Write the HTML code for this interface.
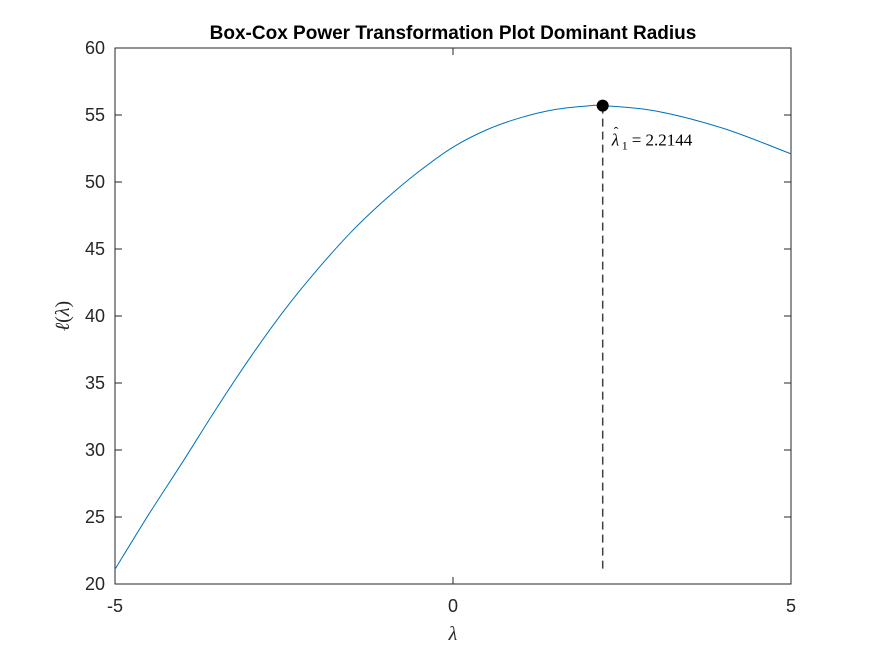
<!DOCTYPE html>
<html><head><meta charset="utf-8"><style>
body{margin:0;background:#fff;}
svg text{font-family:"Liberation Sans",sans-serif;}
</style></head><body>
<svg id="chart" width="875" height="656" xmlns="http://www.w3.org/2000/svg">
<rect width="875" height="656" fill="#fff"/>
<text x="453" y="39" text-anchor="middle" font-size="19" font-weight="bold" fill="#000">Box-Cox Power Transformation Plot Dominant Radius</text>
<rect x="115" y="48" width="676" height="536" fill="none" stroke="#262626" stroke-width="1"/>
<g id="xticks"></g>
<g id="yticks"></g>
<text x="453" y="640" text-anchor="middle" font-size="20" font-style="italic" fill="#262626" style="font-family:'Liberation Serif',serif">λ</text>
<text transform="translate(69,316) rotate(-90)" text-anchor="middle" font-size="20" fill="#262626" style="font-family:'Liberation Serif',serif"><tspan font-style="italic">ℓ</tspan>(<tspan font-style="italic">λ</tspan>)</text>
<path id="curve" fill="none" stroke="#0072BD" stroke-width="1"/>
<line id="dash" stroke="#404040" stroke-width="1.5" stroke-dasharray="8,5"/>
<circle id="peak" r="6" fill="#000"/>
<g id="lbl" fill="#000">
<text x="0" y="0" font-size="17" font-style="italic" style="font-family:'Liberation Serif',serif">λ</text>
<text x="2" y="-9" font-size="14" style="font-family:'Liberation Serif',serif">ˆ</text>
<text x="10" y="4" font-size="12" style="font-family:'Liberation Serif',serif">1</text>
<text x="20" y="0" font-size="17" style="font-family:'Liberation Serif',serif">= 2.2144</text>
</g>
</svg>
<script>
const lambdas=[-5,-4.5,-4,-3.5,-3,-2.5,-2,-1.5,-1,-0.5,0,0.5,1,1.5,2,2.2144,3,4,5];
const loglik=[21.1,25.2,29.1,33.1,36.9,40.4,43.5,46.3,48.7,50.8,52.6,53.9,54.8,55.4,55.68,55.7,55.3,54.0,52.1];
const xTicks=[-5,0,5];
const yTicks=[20,25,30,35,40,45,50,55,60];
const optLambda=2.2144, optValue=55.7, dashBottom=21;
const X=v=>115+(v+5)/10*676;
const Y=v=>584-(v-20)/40*536;
const ns="http://www.w3.org/2000/svg";
const xg=document.getElementById('xticks'), yg=document.getElementById('yticks');
xTicks.forEach(t=>{
  const l=document.createElementNS(ns,'line');
  l.setAttribute('x1',X(t));l.setAttribute('x2',X(t));l.setAttribute('y1',584);l.setAttribute('y2',577);l.setAttribute('stroke','#262626');
  
  
  xg.appendChild(l);
  const l2=l.cloneNode();l2.setAttribute('y1',48);l2.setAttribute('y2',55);xg.appendChild(l2);
  const tx=document.createElementNS(ns,'text');
  tx.setAttribute('x',X(t));tx.setAttribute('y',612);tx.setAttribute('text-anchor','middle');tx.setAttribute('font-size','18');tx.setAttribute('fill','#262626');
  tx.textContent=t;
  
  
  xg.appendChild(tx);
});
yTicks.forEach(t=>{
  const l=document.createElementNS(ns,'line');
  l.setAttribute('x1',115);l.setAttribute('x2',122);l.setAttribute('y1',Y(t));l.setAttribute('y2',Y(t));l.setAttribute('stroke','#262626');
  
  
  yg.appendChild(l);
  const l2=l.cloneNode();l2.setAttribute('x1',791);l2.setAttribute('x2',784);yg.appendChild(l2);
  const tx=document.createElementNS(ns,'text');
  tx.setAttribute('x',105);tx.setAttribute('y',Y(t)+6);tx.setAttribute('text-anchor','end');tx.setAttribute('font-size','18');tx.setAttribute('fill','#262626');
  tx.textContent=t;
  
  
  yg.appendChild(tx);
});
const P=lambdas.map((v,i)=>[X(v),Y(loglik[i])]);
let d='M'+P[0][0]+','+P[0][1];
for(let i=0;i<P.length-1;i++){
  const p0=P[Math.max(0,i-1)],p1=P[i],p2=P[i+1],p3=P[Math.min(P.length-1,i+2)];
  const c1=[p1[0]+(p2[0]-p0[0])/6,p1[1]+(p2[1]-p0[1])/6];
  const c2=[p2[0]-(p3[0]-p1[0])/6,p2[1]-(p3[1]-p1[1])/6];
  d+=` C${c1[0]},${c1[1]} ${c2[0]},${c2[1]} ${p2[0]},${p2[1]}`;
}
document.getElementById('curve').setAttribute('d',d);
const dl=document.getElementById('dash');
dl.setAttribute('x1',X(optLambda));dl.setAttribute('x2',X(optLambda));dl.setAttribute('y1',Y(optValue));dl.setAttribute('y2',Y(dashBottom));
const pk=document.getElementById('peak');pk.setAttribute('cx',X(optLambda));pk.setAttribute('cy',Y(optValue));
document.getElementById('lbl').setAttribute('transform',`translate(${X(optLambda)+9},${Y(optValue)+40})`);
</script>
</body></html>
